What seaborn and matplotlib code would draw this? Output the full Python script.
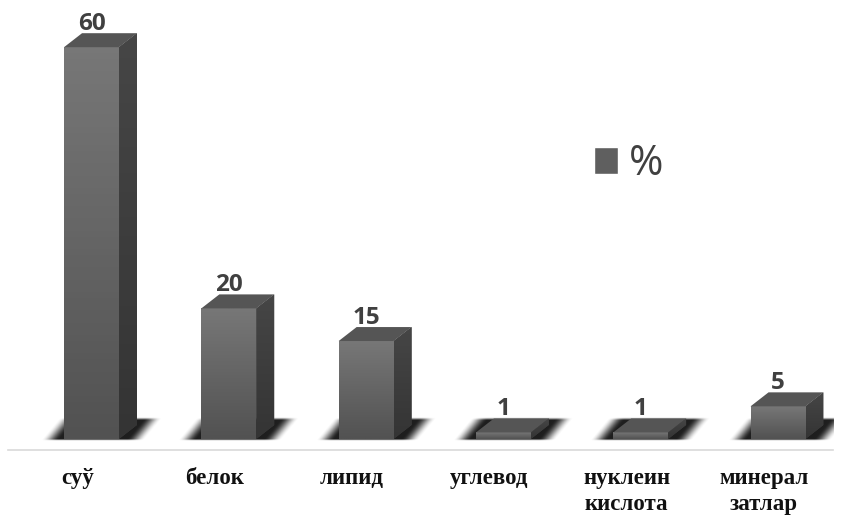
import numpy as np
import pandas as pd
import matplotlib
matplotlib.use("Agg")
import matplotlib.pyplot as plt
from matplotlib.colors import LinearSegmentedColormap
from matplotlib.patches import Polygon, Patch
from matplotlib.transforms import ScaledTranslation
import seaborn as sns

categories = ["суў", "белок", "липид", "углевод", "нуклеин\nкислота", "минерал\nзатлар"]
values = [60, 20, 15, 1, 1, 5]
series_name = "%"

W, H = 842, 516
sns.set_theme(style="white")
fig = plt.figure(figsize=(W / 100, H / 100), dpi=100, facecolor="white")
# axes box in pixels: left 8, right 833, top 0, bottom 450
ax = fig.add_axes([8 / W, (H - 450) / H, (833 - 8) / W, 450 / H])

df = pd.DataFrame({"cat": categories, "val": values})
sns.barplot(data=df, x="cat", y="val", color="#5f5f5f", width=0.4, saturation=1,
            ax=ax, zorder=3, linewidth=0)

PX_X = 137.3   # pixels per category
PX_Y = 6.53    # pixels per unit
x0_px, base_px = 91.5, 439
XLIM = ((8 - x0_px) / PX_X, (833 - x0_px) / PX_X)
YLIM = ((base_px - 450) / PX_Y, base_px / PX_Y)
dx, dy = 18 / PX_X, 14 / PX_Y

front_cmap = LinearSegmentedColormap.from_list("f", ["#777777", "#525252"])
side_cmap = LinearSegmentedColormap.from_list("s", ["#464646", "#343434"])


def smooth(t):
    t = np.clip(t, 0, 1)
    return t * t * (3 - 2 * t)


def shadow_rgba(w_px):
    """Soft sheared floor shadow; size follows the bar footprint (pixels)."""
    nx, ny = int(w_px + 64 + 18 + 22), 24
    xs = np.arange(nx) + 0.5 - 24
    ys = np.arange(ny) + 0.5      # 0 = far edge, ny = near edge
    X, Y = np.meshgrid(xs, ys)
    v = (ny - Y) / ny
    u = X - 20 * v
    a = smooth((u + 24) / 18) * smooth((w_px + 24 - u) / 18)
    a = a * smooth(Y / 3.5) * smooth((ny - Y) / 2.5)
    rgba = np.zeros((ny, nx, 4))
    rgba[..., :3] = 0.12
    rgba[..., 3] = a
    return rgba, nx, ny


for bar, v in zip(list(ax.patches), values):
    x, w, h = bar.get_x(), bar.get_width(), bar.get_height()
    rgba, nx, ny = shadow_rgba(w * PX_X)
    ax.imshow(rgba, extent=(x - 24 / PX_X, x + (nx - 24) / PX_X, -2.5 / PX_Y, (ny - 2.5) / PX_Y),
              origin="upper", aspect="auto", zorder=1, interpolation="bilinear")
    # front face gradient
    img = ax.imshow(np.linspace(0, 1, 64)[:, None], cmap=front_cmap, extent=(x, x + w, 0, h),
                    origin="upper", aspect="auto", zorder=3.2)
    img.set_clip_path(bar)
    # side face gradient
    side = Polygon([(x + w, 0), (x + w + dx, dy), (x + w + dx, h + dy), (x + w, h)], closed=True,
                   facecolor="#3f3f3f", edgecolor="none", zorder=3)
    ax.add_patch(side)
    simg = ax.imshow(np.linspace(0, 1, 64)[:, None], cmap=side_cmap, extent=(x + w, x + w + dx, 0, h + dy),
                     origin="upper", aspect="auto", zorder=3.1)
    simg.set_clip_path(side)
    top = Polygon([(x, h), (x + dx, h + dy), (x + w + dx, h + dy), (x + w, h)], closed=True,
                  facecolor="#555555", edgecolor="none", zorder=3.3)
    ax.add_patch(top)
    ax.annotate(str(v), xy=(x + w / 2, h + dy), xytext=(0, -2), textcoords="offset points",
                ha="center", va="bottom", fontsize=17.5, fontweight="bold", color="#404040",
                family="Open Sans", zorder=5)

ax.set_xlim(*XLIM)
ax.set_ylim(*YLIM)
ax.set_xlabel("")
ax.set_ylabel("")
ax.set_yticks([])
ax.tick_params(axis="x", length=0, pad=13)
ax.set_xticks(range(len(categories)))
ax.set_xticklabels(categories, family="Liberation Serif", fontweight="bold", fontsize=16.5,
                   color="#111111", linespacing=1.33)
shift = ScaledTranslation(-14 / 100, 0, fig.dpi_scale_trans)
for lab in ax.get_xticklabels():
    lab.set_transform(lab.get_transform() + shift)
for s in ["top", "left", "right"]:
    ax.spines[s].set_visible(False)
ax.spines["bottom"].set_color("#d9d9d9")
ax.spines["bottom"].set_linewidth(1.2)
ax.patch.set_alpha(0)

leg = ax.legend(handles=[Patch(facecolor="#5f5f5f", label=series_name)], frameon=False,
                loc="center left", bbox_to_anchor=((594 - 8) / 825, (450 - 164) / 450),
                prop={"family": "Open Sans", "size": 30}, handlelength=0.58, handleheight=0.62,
                handletextpad=0.25, labelcolor="#404040", borderaxespad=0, borderpad=0)

fig.savefig("out.png", dpi=100)
